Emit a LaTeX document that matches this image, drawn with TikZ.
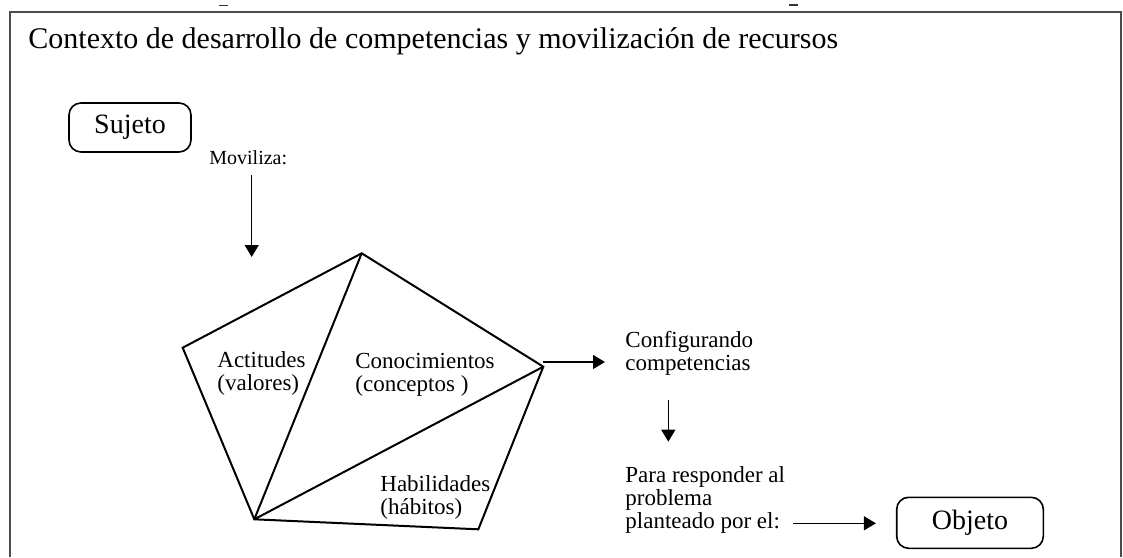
\documentclass[tikz,border=0pt]{standalone}
\usepackage{fontspec}
\setmainfont{Liberation Serif}
\usetikzlibrary{arrows.meta}
\begin{document}
\begin{tikzpicture}[x=0.5pt,y=-0.5pt,
  frameline/.style={draw=black!70,line width=1pt},
  poly/.style={draw=black,line width=1pt,line join=miter},
  conn/.style={draw=black,line width=0.7pt,-{Triangle[width=7pt,length=6pt]}},
  roundbox/.style={draw=black,line width=0.8pt,rounded corners=6pt,inner sep=0pt,font=\fontsize{14}{16}\selectfont},
  lbl/.style={inner sep=0pt,anchor=base west,align=left,font=\fontsize{11.5}{11.5}\selectfont},
  ]
\useasboundingbox (0,0) rectangle (1123,557);
% frame
\draw[frameline] (10,557) -- (10,12) -- (1121,12) -- (1121,557);
\draw[black!80,line width=0.7pt] (219,5.5) -- (228,5.5);
\draw[black!80,line width=0.7pt] (789,5) -- (798,5);
% title
\node[inner sep=0pt,anchor=base west,font=\fontsize{15}{17}\selectfont] (title) at (28,48)
  {Contexto de desarrollo de competencias y movilización de recursos};
% boxes
\node[roundbox,minimum width=61pt,minimum height=24.5pt] (sujeto) at (130,127.5) {Sujeto};
\node[roundbox,minimum width=73.3pt,minimum height=25.5pt] (objeto) at (970,522.8) {Objeto};
% pentagon
\coordinate (ptop) at (361.7,253.3);
\coordinate (pleft) at (182.7,347.7);
\coordinate (pbl) at (254.3,519.3);
\coordinate (pbr) at (478.3,529.3);
\coordinate (pright) at (543.3,366.7);
\draw[poly] (ptop) -- (pright) -- (pbr) -- (pbl) -- (pleft) -- cycle;
\draw[poly] (pbl) -- (ptop);
\draw[poly] (pbl) -- (pright);
% labels (base anchor = baseline of the last line)
\node[lbl,font=\fontsize{10}{11}\selectfont] (moviliza) at (209,164) {Moviliza:};
\node[lbl] (actitudes) at (217,390.7) {Actitudes\\(valores)};
\node[lbl] (conoc) at (355,391.5) {Conocimientos\\(conceptos )};
\node[lbl] (habil) at (380,514) {Habilidades\\(hábitos)};
\node[lbl] (config) at (625,370) {Configurando\\competencias};
\node[lbl] (para) at (625,528) {Para responder al\\problema\\planteado por el:};
% connectors
\coordinate (m1) at (251.7,175);
\coordinate (m2) at (251.7,257);
\draw[conn] (m1) -- (m2);
\coordinate (c1) at (543,362);
\coordinate (c2) at (605,362);
\draw[conn] (c1) -- (c2);
\coordinate (d1) at (668.3,400);
\coordinate (d2) at (668.3,441.7);
\draw[conn] (d1) -- (d2);
\coordinate (o1) at (793,523.3);
\draw[conn] (o1) -- ([xshift=-10pt]objeto.west |- o1);
\end{tikzpicture}
\end{document}
